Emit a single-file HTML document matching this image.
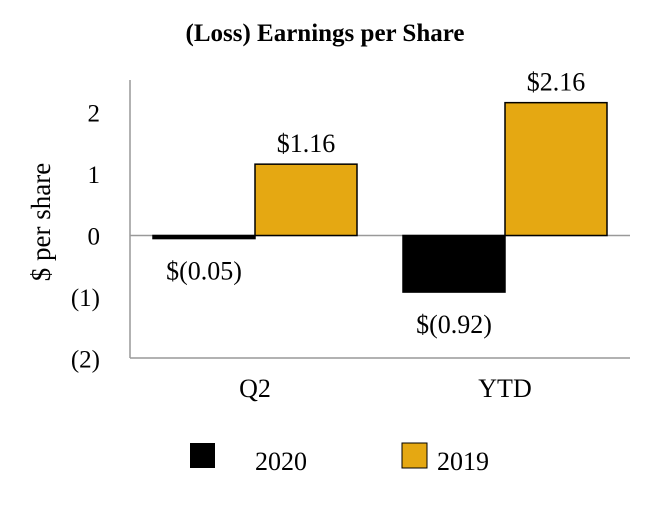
<!DOCTYPE html>
<html><head><meta charset="utf-8"><style>
html,body{margin:0;padding:0;background:#fff;}
svg text{font-family:"Liberation Serif",serif;fill:#000;}
</style></head><body>
<svg id="chart" width="650" height="500" viewBox="0 0 650 500">
<text x="325" y="41" text-anchor="middle" font-size="25" font-weight="bold">(Loss) Earnings per Share</text>
<text transform="translate(50,222) rotate(-90)" text-anchor="middle" font-size="27">$ per share</text>
<g id="ticks"></g>
<g id="bars"></g>
<line x1="130" y1="80" x2="130" y2="358" stroke="#999" stroke-width="1.5"/>
<line x1="130" y1="358" x2="630" y2="358" stroke="#999" stroke-width="1.5"/>
<g id="legend">
<rect x="190" y="443" width="25" height="25" fill="#000"/>
<text x="255" y="470" font-size="26">2020</text>
<rect x="402" y="443" width="25" height="25" fill="#E5A812" stroke="#000"/>
<text x="437" y="470" font-size="26">2019</text>
</g>
</svg>
<script>
const categories=["Q2","YTD"];
const values2020=[-0.05,-0.92];
const values2019=[1.16,2.16];
const labels2020=["$(0.05)","$(0.92)"];
const labels2019=["$1.16","$2.16"];
const tickValues=[2,1,0,-1,-2];
const tickLabels=["2","1","0","(1)","(2)"];

const NS="http://www.w3.org/2000/svg";
const y=v=>235.5-v*61.5;
const catX=i=>255+i*250;
const bw=102;
function mk(tag,attrs,parent){const e=document.createElementNS(NS,tag);for(const k in attrs)e.setAttribute(k,attrs[k]);parent.appendChild(e);return e;}
const tg=document.getElementById('ticks');
tickValues.forEach((v,i)=>{
  const t=mk('text',{x:100,y:y(v)+9,'text-anchor':'end','font-size':25},tg);
  t.textContent=tickLabels[i];
  
  
});
const bg=document.getElementById('bars');
const zl=mk('line',{x1:130,y1:y(0),x2:630,y2:y(0),stroke:'#999','stroke-width':1.5},bg);


categories.forEach((c,i)=>{
  const cx=catX(i);
  const series=[[values2020[i],'#000',cx-bw,labels2020[i],'2020'],[values2019[i],'#E5A812',cx,labels2019[i],'2019']];
  series.forEach(([v,col,x0,lab,yr])=>{
    const top=Math.min(y(v),y(0)),h=Math.abs(y(v)-y(0));
    const r=mk('rect',{x:x0,y:top,width:bw,height:h,fill:col,stroke:'#000','stroke-width':1.5},bg);
    
    
    const ly=v>=0?y(v)-12:Math.max(y(v),y(0))+41;
    const t=mk('text',{x:x0+bw/2,y:ly,'text-anchor':'middle','font-size':26},bg);
    t.textContent=lab;
    
    
  });
  const ct=mk('text',{x:cx,y:397,'text-anchor':'middle','font-size':26},bg);
  ct.textContent=c;
  
  
});
</script>
</body></html>
